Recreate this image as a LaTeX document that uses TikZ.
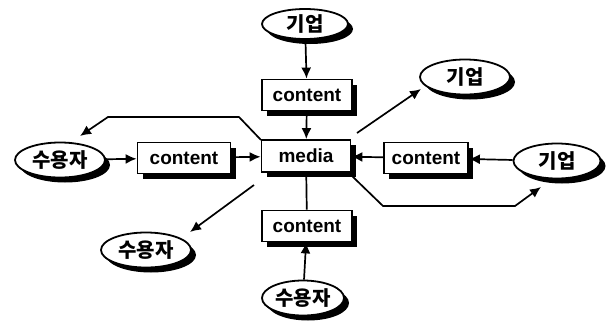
\documentclass[tikz,border=0pt]{standalone}
\usepackage{fontspec}
\setmainfont{Liberation Sans}
\newfontfamily\kr{Noto Sans CJK KR}
\usetikzlibrary{shapes.geometric,shadows,arrows.meta}
\begin{document}
\begin{tikzpicture}[x=1pt,y=-1pt,
  shade/.style={drop shadow={shadow xshift=5pt,shadow yshift=-5pt,fill=black,opacity=1}},
  box/.style={draw,line width=1.8pt,fill=white,inner sep=0pt,
    minimum width=90pt,minimum height=31pt,shade,
    font=\fontsize{19}{19}\selectfont\bfseries},
  oval/.style={ellipse,draw,line width=1.8pt,fill=white,inner sep=0pt,
    minimum width=90pt,minimum height=35pt,shade,
    font=\kr\fontsize{20}{20}\selectfont\bfseries},
  link/.style={line width=1.7pt},
  arr/.style={link,-{Latex[length=11pt,width=10pt]}}]
\useasboundingbox (0,0) rectangle (614,322);

% centre
\node[box,minimum width=89pt,minimum height=32pt] (m) at (306,156) {media};

% content boxes
\node[box] (ctop) at (307,95) {content};
\node[box,minimum width=93pt] (cleft) at (184,158) {content};
\node[box,minimum width=84pt] (cright) at (426,158) {content};
\node[box] (cbot) at (307,226) {content};

% actors
\node[oval,minimum width=86pt,minimum height=30pt] (etop) at (305,24) {기업};
\node[oval] (eup) at (465,77) {기업};
\node[oval,minimum width=87pt] (eright) at (557,161) {기업};
\node[oval] (uleft) at (60,160) {수용자};
\node[oval] (ulow) at (146,250) {수용자};
\node[oval,minimum width=82pt] (ubot) at (303,298) {수용자};

% flows into the media
\draw[arr] (etop) -- (ctop);
\draw[arr] (ctop) -- (m);
\draw[arr] (uleft) -- (cleft);
\draw[arr] (cleft) -- (m);
\draw[arr] (eright) -- (cright);
\draw[arr] (cright) -- (m);
\draw[link] (m) -- (cbot);
\draw[arr] (ubot) -- (cbot);

% flows out of the media
\coordinate (a1) at (357,133);
\coordinate (a2) at (421,89);
\draw[arr] (a1) -- (a2);
\coordinate (b1) at (254,185);
\coordinate (b2) at (190,232);
\draw[arr] (b1) -- (b2);
\coordinate (p1) at (261,140);
\coordinate (p2) at (239,117);
\coordinate (p3) at (108,117);
\coordinate (p4) at (80,136);
\draw[arr,line join=round] (p1) -- (p2) -- (p3) -- (p4);
\coordinate (q1) at (352,176);
\coordinate (q2) at (383,206);
\coordinate (q3) at (515,206);
\coordinate (q4) at (541,187);
\draw[arr,line join=round] (q1) -- (q2) -- (q3) -- (q4);
\end{tikzpicture}
\end{document}
